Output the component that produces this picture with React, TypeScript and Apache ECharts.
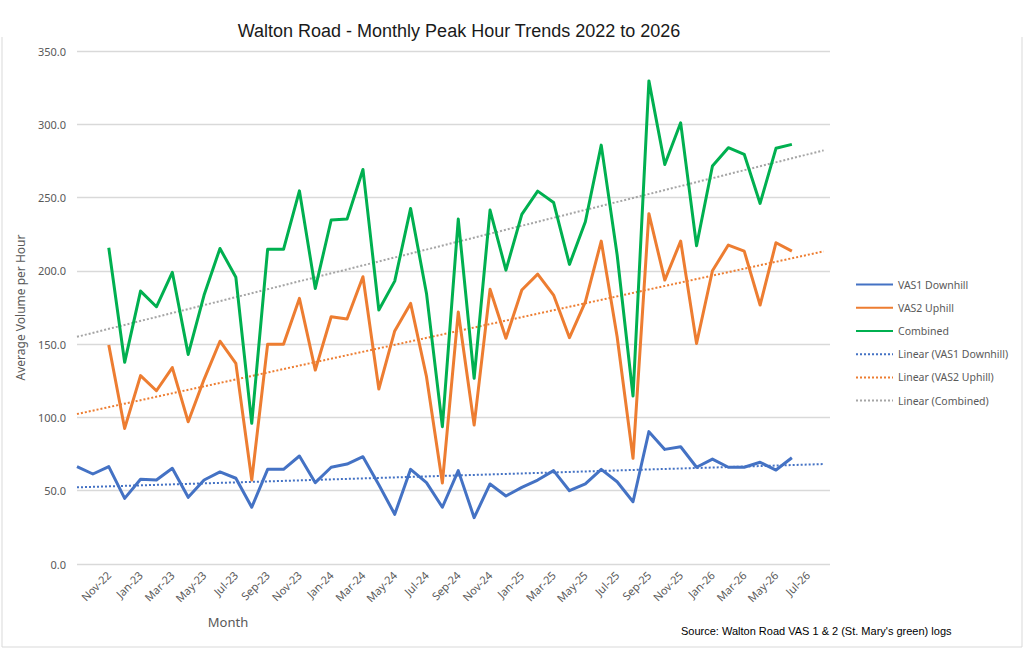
import React, { useEffect, useRef } from 'react';
import * as echarts from 'echarts';

// month labels, Sep-22 to Aug-26 (index = position on the x axis)
const months = [
  'Sep-22', 'Oct-22', 'Nov-22', 'Dec-22', 'Jan-23', 'Feb-23', 'Mar-23', 'Apr-23',
  'May-23', 'Jun-23', 'Jul-23', 'Aug-23', 'Sep-23', 'Oct-23', 'Nov-23', 'Dec-23',
  'Jan-24', 'Feb-24', 'Mar-24', 'Apr-24', 'May-24', 'Jun-24', 'Jul-24', 'Aug-24',
  'Sep-24', 'Oct-24', 'Nov-24', 'Dec-24', 'Jan-25', 'Feb-25', 'Mar-25', 'Apr-25',
  'May-25', 'Jun-25', 'Jul-25', 'Aug-25', 'Sep-25', 'Oct-25', 'Nov-25', 'Dec-25',
  'Jan-26', 'Feb-26', 'Mar-26', 'Apr-26', 'May-26', 'Jun-26', 'Jul-26', 'Aug-26',
];

const vas1Downhill = [
  66.4, 61.4, 66.4, 44.8, 57.8, 57.3, 65.3, 45.5, 57.3, 62.8, 58.5, 38.7,
  64.6, 64.6, 73.7, 55.5, 66.0, 68.2, 73.2, 54.0, 33.9, 64.6, 55.5, 38.7,
  63.7, 31.6, 54.6, 46.4, 52.3, 57.3, 63.7, 50.0, 54.6, 64.6, 56.1, 42.5,
  90.3, 78.2, 80.0, 66.0, 71.6, 66.0, 66.0, 69.4, 64.1, 72.5,
];

const vas2Uphill = [
  null, null, 149.4, 92.5, 128.5, 118.2, 134.0, 97.0, 126.0, 152.0, 136.9, 57.3,
  150.0, 150.0, 181.2, 132.3, 168.7, 167.1, 196.0, 119.4, 159.0, 177.8, 127.8, 55.3,
  171.9, 94.8, 187.4, 154.0, 186.9, 197.8, 183.5, 154.4, 178.9, 220.3, 155.0, 72.1,
  239.0, 193.7, 220.3, 150.5, 200.1, 217.6, 213.5, 176.7, 219.2, 213.5,
];

const combined = [
  null, null, 215.8, 137.6, 186.2, 175.5, 199.0, 143.0, 183.5, 215.3, 195.6, 96.0,
  214.7, 214.7, 254.6, 188.0, 234.7, 235.3, 269.2, 173.3, 193.0, 242.6, 184.6, 93.7,
  235.3, 126.7, 241.5, 200.5, 238.5, 254.4, 246.7, 204.4, 233.5, 285.8, 211.0, 114.6,
  329.6, 272.6, 301.0, 217.1, 271.5, 284.0, 279.5, 246.0, 283.6, 286.3,
];

// linear trend lines: value at first and last x position
const trendX = [0, 47];
const trendVas1 = [52.3, 68.2];
const trendVas2 = [102.3, 213.3];
const trendCombined = [155.0, 282.2];

const yTicks = [0, 350, 50]; // min, max, interval

const toPoints = (arr) =>
  arr.map((v, i) => [i, v]).filter((p) => p[1] !== null);

const App = () => {
  const chartRef = useRef(null);

  useEffect(() => {
    const chart = echarts.init(chartRef.current, null, { renderer: 'svg' });

    const axisFont = 'Noto Sans';
    const grey = '#595959';

    const solid = (name, color, data) => ({
      name,
      type: 'line',
      data: toPoints(data),
      symbol: 'none',
      lineStyle: { color, width: 3, join: 'round' },
      itemStyle: { color },
    });
    const trend = (name, color, vals) => ({
      name,
      type: 'line',
      data: trendX.map((x, i) => [x, vals[i]]),
      symbol: 'none',
      lineStyle: { color, width: 2, type: [2, 2] },
      itemStyle: { color },
      z: 1,
    });

    chart.setOption({
      animation: false,
      backgroundColor: '#ffffff',
      grid: { left: 77, right: 193, top: 51, bottom: 85 },
      xAxis: {
        type: 'value',
        min: 0,
        max: 47.4,
        interval: 2,
        axisLine: { show: false },
        axisTick: { show: false },
        splitLine: { show: false },
        axisLabel: {
          rotate: 45,
          margin: 9,
          color: grey,
          fontFamily: axisFont,
          fontSize: 11,
          showMaxLabel: false,
          formatter: (v) => (v === 0 ? '' : months[v] ?? ''),
        },
      },
      yAxis: {
        type: 'value',
        min: yTicks[0],
        max: yTicks[1],
        interval: yTicks[2],
        name: 'Average Volume per Hour',
        nameLocation: 'middle',
        nameGap: 45,
        nameTextStyle: { color: grey, fontFamily: axisFont, fontSize: 12 },
        axisLine: { show: false },
        axisTick: { show: false },
        splitLine: { lineStyle: { color: '#d9d9d9', width: 1.3 } },
        axisLabel: {
          margin: 11,
          color: grey,
          fontFamily: axisFont,
          fontSize: 11,
          formatter: (v) => v.toFixed(1),
        },
      },
      legend: {
        orient: 'vertical',
        left: 850,
        top: 274,
        itemWidth: 37,
        itemHeight: 14,
        itemGap: 12,
        itemStyle: { color: 'transparent', borderWidth: 0, opacity: 0 },
        textStyle: { color: grey, fontFamily: axisFont, fontSize: 10.5 },
        data: [
          'VAS1 Downhill',
          'VAS2 Uphill',
          'Combined',
          'Linear (VAS1 Downhill)',
          'Linear (VAS2 Uphill)',
          'Linear (Combined)',
        ],
      },
      series: [
        solid('VAS1 Downhill', '#4472c4', vas1Downhill),
        solid('VAS2 Uphill', '#ed7d31', vas2Uphill),
        solid('Combined', '#00b050', combined),
        trend('Linear (VAS1 Downhill)', '#4472c4', trendVas1),
        trend('Linear (VAS2 Uphill)', '#ed7d31', trendVas2),
        trend('Linear (Combined)', '#a5a5a5', trendCombined),
      ],
      graphic: [
        {
          type: 'polyline',
          shape: { points: [[2, 37], [2, 647], [1022, 647], [1022, 37]] },
          style: { stroke: '#d9d9d9', fill: null, lineWidth: 1 },
        },
        {
          type: 'text',
          x: 459,
          y: 31,
          style: {
            text: 'Walton Road - Monthly Peak Hour Trends 2022 to 2026',
            fill: '#1a1a1a',
            font: '18px "Liberation Sans", Arial, sans-serif',
            textAlign: 'center',
            textVerticalAlign: 'middle',
          },
        },
        {
          type: 'text',
          x: 228,
          y: 622,
          style: {
            text: 'Month',
            fill: grey,
            font: '13px "Noto Sans", sans-serif',
            textAlign: 'center',
            textVerticalAlign: 'middle',
          },
        },
        {
          type: 'text',
          x: 681,
          y: 631,
          style: {
            text: "Source: Walton Road VAS 1 & 2 (St. Mary's green) logs",
            fill: '#000000',
            font: '11px "Liberation Sans", Arial, sans-serif',
            textAlign: 'left',
            textVerticalAlign: 'middle',
          },
        },
      ],
    });

    return () => {
      chart.dispose();
    };
  }, []);

  return (
    <div
      ref={chartRef}
      style={{ position: 'fixed', left: 0, top: 0, width: '1023px', height: '649px' }}
    />
  );
};

export default App;
